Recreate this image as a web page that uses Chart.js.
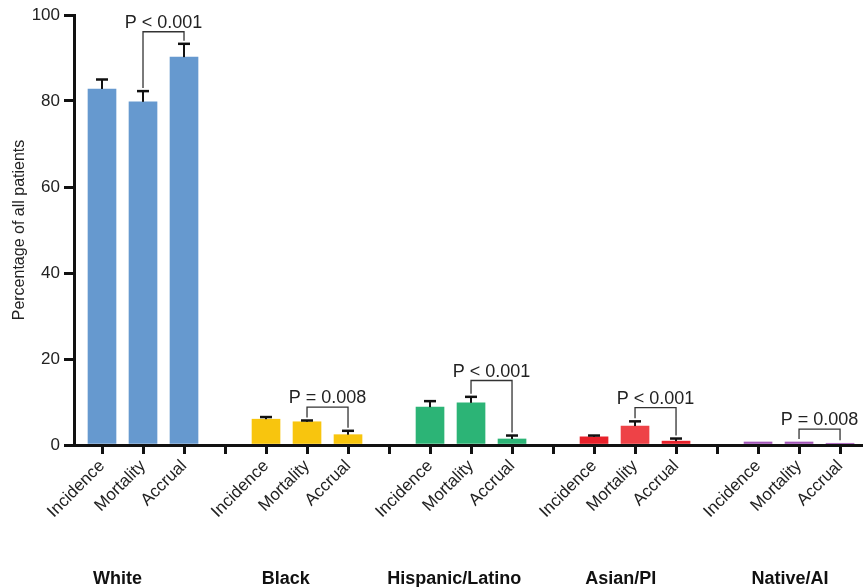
<!DOCTYPE html>
<html>
<head>
<meta charset="utf-8">
<script src="https://cdn.jsdelivr.net/npm/chart.js@4.4.1/dist/chart.umd.min.js"></script>
<style>
html,body{margin:0;padding:0;background:#fff}
</style>
</head>
<body>
<canvas id="chart" width="863" height="587"></canvas>
<script>
// ================= DATA =================
const groups = ["White", "Black", "Hispanic/Latino", "Asian/PI", "Native/AI"];
const measures = ["Incidence", "Mortality", "Accrual"];

const incidence = [82.8, 6.0, 8.8, 1.9, 0.7];
const mortality = [79.8, 5.4, 9.8, 4.4, 0.7];
const accrual   = [90.2, 2.4, 1.4, 0.9, 0.4];

// top of the error bar (null = no error bar visible)
const incidenceErr = [85.0, 6.5, 10.2, 2.2, null];
const mortalityErr = [82.3, 5.7, 11.2, 5.5, null];
const accrualErr   = [93.3, 3.3, 2.2, 1.5, null];

// significance brackets, mortality vs accrual
const pText = ["P < 0.001", "P = 0.008", "P < 0.001", "P < 0.001", "P = 0.008"];
const bracketY = [96.1, 8.8, 15.0, 8.7, 3.7];

const yTicks = [0, 20, 40, 60, 80, 100];

// ================= STYLE =================
const groupColors = [
  ["#6699cf", "#6699cf", "#6699cf"],
  ["#f8c50e", "#f8c50e", "#f8c50e"],
  ["#2cb476", "#2cb476", "#2cb476"],
  ["#e8212a", "#ee4247", "#e8212a"],
  ["#a256b8", "#a256b8", "#a256b8"]
];
// group title offset from the middle bar, in slots
const groupShift = [-0.62, -0.52, -0.41, -0.35, -0.22];
const FONT = "'Liberation Sans', Arial, Helvetica, sans-serif";

// ================= BUILD =================
const values = [incidence, mortality, accrual];
const errs = [incidenceErr, mortalityErr, accrualErr];

let tickLabels = [""];
let bars = [];
let colors = [];

groups.forEach((g, gi) => {
  measures.forEach((m, mi) => {
    const pos = gi * 4 + mi + 1;
    bars.push({x: pos, y: values[mi][gi], err: errs[mi][gi]});
    colors.push(groupColors[gi][mi]);
    tickLabels[pos] = m;
  });
  if (gi < groups.length - 1) tickLabels[gi * 4 + 4] = "";
});

function line(ctx, x1, y1, x2, y2) {
  ctx.beginPath();
  ctx.moveTo(x1, y1);
  ctx.lineTo(x2, y2);
  ctx.stroke();
}

// ================= OVERLAY =================
const overlay = {
  id: "overlay",
  afterDatasetsDraw(chart) {
    const ctx = chart.ctx;
    const xs = chart.scales.x;
    const ys = chart.scales.y;
    ctx.save();

    // error bars
    ctx.strokeStyle = "#111";
    bars.forEach(b => {
      if (b.err == null) return;
      const px = xs.getPixelForValue(b.x);
      const top = ys.getPixelForValue(b.err);
      const base = ys.getPixelForValue(b.y);
      ctx.lineWidth = 2;
      line(ctx, px, base, px, top);
      ctx.lineWidth = 2.5;
      line(ctx, px - 6, top, px + 6, top);
    });

    // brackets
    ctx.strokeStyle = "#333";
    ctx.lineWidth = 1.3;
    ctx.fillStyle = "#222";
    ctx.font = "18px " + FONT;
    ctx.textAlign = "center";
    ctx.textBaseline = "alphabetic";
    groups.forEach((g, gi) => {
      const xl = xs.getPixelForValue(gi * 4 + 2);
      const xr = xs.getPixelForValue(gi * 4 + 3);
      const yb = ys.getPixelForValue(bracketY[gi]);
      const lTop = Math.max(mortality[gi], mortalityErr[gi] ?? 0);
      const rTop = Math.max(accrual[gi], accrualErr[gi] ?? 0);
      const yl = ys.getPixelForValue(lTop) - 3;
      const yr = ys.getPixelForValue(rTop) - 3;
      ctx.beginPath();
      ctx.moveTo(xl, yl);
      ctx.lineTo(xl, yb);
      ctx.lineTo(xr, yb);
      ctx.lineTo(xr, yr);
      ctx.stroke();
      ctx.fillText(pText[gi], (xl + xr) / 2, yb - 4);
    });

    ctx.restore();
  },
  afterDraw(chart) {
    const ctx = chart.ctx;
    const xs = chart.scales.x;
    ctx.save();
    ctx.fillStyle = "#111";
    ctx.font = "bold 18px " + FONT;
    ctx.textAlign = "center";
    ctx.textBaseline = "alphabetic";
    groups.forEach((g, gi) => {
      ctx.fillText(g, xs.getPixelForValue(gi * 4 + 2 + groupShift[gi]), 584);
    });
    ctx.restore();
  }
};

// ================= CHART =================
new Chart(document.getElementById("chart"), {
  type: "bar",
  data: {
    datasets: [{
      data: bars.map(b => ({x: b.x, y: b.y})),
      backgroundColor: colors,
      borderWidth: 0,
      barThickness: 28
    }]
  },
  options: {
    responsive: false,
    animation: false,
    layout: {padding: {top: 15, left: 0, right: 0, bottom: 0}},
    plugins: {legend: {display: false}, tooltip: {enabled: false}},
    scales: {
      x: {
        type: "linear",
        min: 0.317,
        max: 19.56,
        offset: false,
        z: 1,
        afterFit: s => { s.height = 142; },
        afterBuildTicks: s => { s.ticks = tickLabels.map((t, i) => ({value: i})).filter(t => t.value > 0); },
        grid: {offset: false, drawOnChartArea: false, tickLength: 9, lineWidth: 3, color: "#111"},
        border: {display: true, color: "#111", width: 3},
        ticks: {
          autoSkip: false,
          maxRotation: 45,
          minRotation: 45,
          padding: 2,
          color: "#222",
          font: {family: FONT, size: 17},
          callback: v => tickLabels[v] ?? ""
        }
      },
      y: {
        min: 0,
        max: 100,
        z: 1,
        afterFit: s => { s.width = 74; },
        afterBuildTicks: s => { s.ticks = yTicks.map(v => ({value: v})); },
        grid: {drawOnChartArea: false, tickLength: 10, lineWidth: 3, color: "#111"},
        border: {display: true, color: "#111", width: 3},
        ticks: {color: "#222", padding: 4, font: {family: FONT, size: 17}},
        title: {
          display: true,
          text: "Percentage of all patients",
          color: "#222",
          font: {family: FONT, size: 16},
          padding: {top: 10, bottom: 0}
        }
      }
    }
  },
  plugins: [overlay]
});
</script>
</body>
</html>
